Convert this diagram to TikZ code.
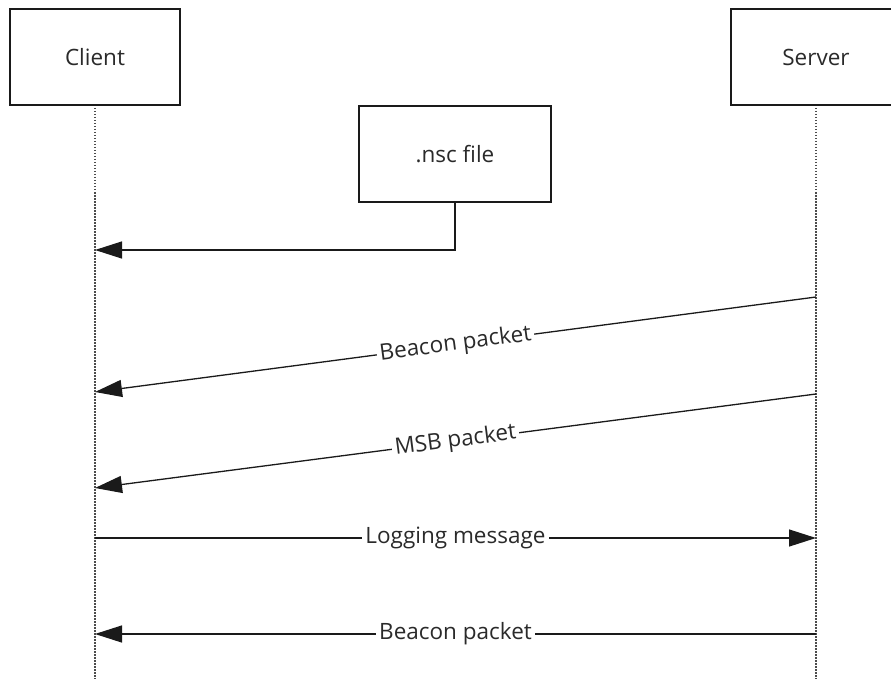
\documentclass[tikz,border=0pt]{standalone}
\usepackage{fontspec}
\setmainfont{Open Sans}
\usetikzlibrary{arrows.meta}
\definecolor{txt}{HTML}{2A2A2A}
\definecolor{ln}{HTML}{1A1A1A}
\tikzset{
  lifebox/.style={draw=ln, line width=1.3pt, fill=white, minimum width=170pt, minimum height=96pt, inner sep=0pt, font=\fontsize{22.5}{26}\selectfont, text=txt},
  lifeline/.style={draw=gray!60!black, line width=1.4pt, dash pattern=on 1.5pt off 1.5pt},
  msg/.style={draw=ln, line width=1.3pt, -{Triangle[length=27pt,width=17pt]}},
  lbl/.style={fill=white, inner sep=3pt, sloped, font=\fontsize{22.5}{26}\selectfont, text=txt}
}
\begin{document}
\begin{tikzpicture}[x=1pt,y=-1pt]
\clip (0,0) rectangle (891,679);
\fill[white] (0,0) rectangle (891,679);
% lifelines
\coordinate (cl) at (95,105);
\coordinate (clend) at (95,679);
\coordinate (sl) at (816,105);
\coordinate (slend) at (816,679);
\draw[lifeline] (cl) -- (clend);
\draw[lifeline] (sl) -- (slend);
% boxes
\node[lifebox] (client) at (95,57) {Client};
\node[lifebox] (server) at (816,57) {Server};
\node[lifebox, minimum width=192pt] (nsc) at (455,154) {.nsc file};
% message points
\coordinate (nscc) at (95,250);
\coordinate (s1) at (816,297);
\coordinate (c1) at (95,392);
\coordinate (s2) at (816,394);
\coordinate (c2) at (95,488);
\coordinate (c3) at (95,538);
\coordinate (s3) at (816,538);
\coordinate (s4) at (816,634);
\coordinate (c4) at (95,634);
% connectors
\draw[msg] (nsc.south) |- (nscc);
\draw[msg] (s1) -- node[lbl] {Beacon packet} (c1);
\draw[msg] (s2) -- node[lbl] {MSB packet} (c2);
\draw[msg] (c3) -- node[lbl] {Logging message} (s3);
\draw[msg] (s4) -- node[lbl] {Beacon packet} (c4);
\end{tikzpicture}
\end{document}
